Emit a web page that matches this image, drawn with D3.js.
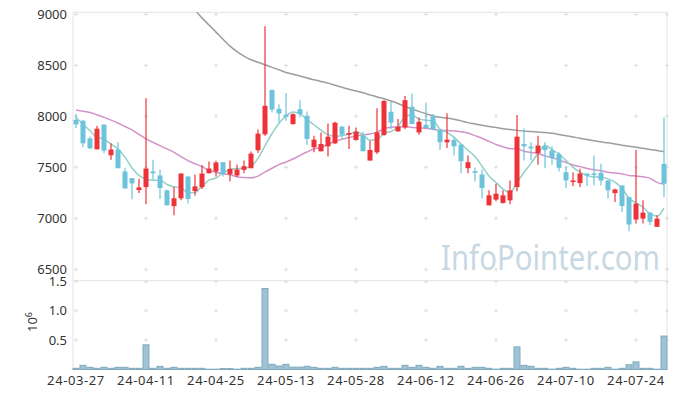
<!DOCTYPE html>
<html>
<head>
<meta charset="utf-8">
<script src="https://cdn.jsdelivr.net/npm/d3@7"></script>
<style>
  body { margin: 0; background: #fff; }
  text { font-family: "Noto Sans", sans-serif; }
</style>
</head>
<body>
<div id="chart"></div>
<script>
var width = 677;
var height = 398;

var dates = [
  "24-03-27","24-03-28","24-03-29","24-04-01","24-04-02","24-04-03","24-04-04","24-04-05","24-04-08","24-04-09",
  "24-04-11","24-04-12","24-04-15","24-04-16","24-04-17","24-04-18","24-04-19","24-04-22","24-04-23","24-04-24",
  "24-04-25","24-04-26","24-04-29","24-04-30","24-05-02","24-05-03","24-05-07","24-05-08","24-05-09","24-05-10",
  "24-05-13","24-05-14","24-05-16","24-05-17","24-05-20","24-05-21","24-05-22","24-05-23","24-05-24","24-05-27",
  "24-05-28","24-05-29","24-05-30","24-05-31","24-06-03","24-06-04","24-06-05","24-06-07","24-06-10","24-06-11",
  "24-06-12","24-06-13","24-06-14","24-06-17","24-06-18","24-06-19","24-06-20","24-06-21","24-06-24","24-06-25",
  "24-06-26","24-06-27","24-06-28","24-07-01","24-07-02","24-07-03","24-07-04","24-07-05","24-07-08","24-07-09",
  "24-07-10","24-07-11","24-07-12","24-07-15","24-07-16","24-07-17","24-07-18","24-07-19","24-07-22","24-07-23",
  "24-07-24","24-07-25","24-07-26","24-07-29","24-07-30"
];

var opens = [
  7966,7956,7784,7676,7917,7618,7674,7459,7394,7277,
  7306,7459,7420,7274,7120,7196,7410,7267,7306,7442,
  7459,7550,7430,7420,7475,7491,7667,7823,8259,8073,
  8015,7924,8070,8005,7696,7657,7706,7735,7898,7820,
  7768,7810,7566,7647,7817,8044,7852,7891,8093,7842,
  7917,8000,7869,7745,7768,7722,7491,7462,7430,7127,
  7183,7150,7176,7306,7729,7703,7637,7706,7664,7631,
  7452,7355,7345,7439,7439,7446,7371,7247,7322,7208,
  6988,6997,7056,6916,7534
];
var highs = [
  8022,7963,7803,7907,7924,7735,7745,7495,7394,7388,
  8178,7573,7478,7280,7306,7439,7410,7430,7521,7556,
  7563,7550,7566,7527,7566,7654,7871,8883,8259,8119,
  8229,8031,8158,8047,7810,7842,7930,7946,7908,7908,
  7891,7849,7761,8080,8158,8142,7973,8200,8223,7989,
  8135,8022,7869,8031,7793,7729,7615,7495,7478,7274,
  7339,7274,7371,8012,7881,7745,7810,7745,7706,7647,
  7508,7452,7485,7439,7615,7534,7371,7290,7322,7208,
  7670,7176,7056,7030,7989
];
var lows = [
  7885,7696,7680,7676,7637,7573,7491,7293,7186,7247,
  7137,7378,7189,7127,7030,7176,7144,7222,7287,7439,
  7410,7410,7361,7404,7442,7491,7641,7810,8037,7940,
  7956,7917,7989,7722,7647,7657,7605,7729,7778,7680,
  7761,7657,7566,7631,7810,7875,7852,7875,7924,7820,
  7885,7869,7670,7690,7615,7442,7442,7361,7193,7127,
  7166,7144,7137,7264,7566,7566,7524,7491,7524,7459,
  7296,7313,7306,7316,7322,7322,7193,7160,7062,6874,
  6949,6949,6932,6916,7208
];
var closes = [
  7920,7735,7686,7878,7664,7674,7491,7293,7342,7303,
  7488,7442,7296,7127,7196,7439,7189,7313,7439,7488,
  7547,7436,7485,7478,7511,7634,7830,8103,8067,8028,
  7995,8021,8021,7778,7771,7729,7800,7937,7820,7836,
  7849,7657,7670,7842,8151,7937,7898,8158,7924,7946,
  7885,7869,7745,7771,7706,7559,7550,7446,7296,7225,
  7241,7225,7274,7800,7706,7686,7713,7670,7589,7495,
  7371,7371,7439,7420,7427,7371,7274,7283,7120,6939,
  7144,7056,6965,6997,7339
];
// volume in millions
var volumes = [
  0.02,0.071,0.037,0.02,0.037,0.02,0.037,0.037,0.02,0.02,
  0.42,0.02,0.054,0.02,0.037,0.02,0.02,0.02,0.02,0.005,
  0.005,0.015,0.015,0.005,0.02,0.02,0.037,1.38,0.088,0.06,
  0.088,0.04,0.04,0.054,0.037,0.02,0.02,0.037,0.02,0.02,
  0.02,0.02,0.02,0.037,0.054,0.02,0.02,0.071,0.037,0.071,
  0.037,0.02,0.054,0.02,0.02,0.054,0.02,0.037,0.037,0.02,
  0.005,0.02,0.02,0.385,0.071,0.054,0.02,0.02,0.005,0.02,
  0.037,0.02,0.005,0.005,0.02,0.02,0.037,0.005,0.02,0.08,
  0.13,0.02,0.02,0.005,0.57
];
// moving average values before enough history is on the chart
var ma5Head = [7989, 7924, 7859, 7793];
var ma20Head = [8061,8050,8037,8015,7989,7962,7934,7900,7866,7822,7778,7745,7712,7680,7647,7605,7566,7535,7508];
// long moving average, null = off chart
var ma120 = [
  null,null,null,null,null,null,null,null,null,null,
  null,null,null,null,null,9260,9120,9040,8965,8895,
  8825,8755,8688,8635,8590,8555,8530,8505,8480,8455,
  8430,8412,8395,8375,8358,8342,8325,8305,8285,8265,
  8248,8230,8210,8190,8172,8150,8125,8098,8070,8048,
  8025,8005,7990,7982,7972,7955,7938,7925,7912,7900,
  7890,7878,7870,7862,7855,7850,7845,7840,7833,7822,
  7810,7797,7785,7772,7760,7750,7740,7728,7717,7706,
  7697,7686,7675,7665,7654
];

var priceTicks = [6500, 7000, 7500, 8000, 8500, 9000];
var volTicks = [0.5, 1.0, 1.5];
var dateTickIdx = [0, 10, 20, 30, 40, 50, 60, 70, 80];

function movingAvg(n, head) {
  return closes.map(function(c, i) {
    if (i < n - 1) return head[i];
    return d3.mean(closes.slice(i - n + 1, i + 1));
  });
}
var ma5 = movingAvg(5, ma5Head);
var ma20 = movingAvg(20, ma20Head);

var plotLeft = 73, plotRight = 667, plotTop = 12.3;

var svg = d3.select("#chart").append("svg")
  .attr("width", width)
  .attr("height", height);

var x = d3.scaleLinear().domain([-3/7, closes.length - 1 + 3/7]).range([plotLeft, plotRight]);
var y = d3.scaleLinear().domain([6500, 9000]).range([269.3, 14.3]);
var yv = d3.scaleLinear().domain([0, 1.5]).range([369.5, 281.5]);

svg.append("defs").append("clipPath").attr("id", "clipPrice")
  .append("rect").attr("x", plotLeft).attr("y", plotTop).attr("width", plotRight - plotLeft).attr("height", 262);

// frame
var frame = "#e3e3e3";
svg.append("line").attr("x1", plotLeft).attr("x2", plotRight).attr("y1", plotTop).attr("y2", plotTop).attr("stroke", frame);
svg.append("line").attr("x1", plotLeft).attr("x2", plotRight).attr("y1", 280.7).attr("y2", 280.7).attr("stroke", frame);
svg.append("line").attr("x1", plotLeft).attr("x2", plotRight).attr("y1", 369.5).attr("y2", 369.5).attr("stroke", frame);
svg.append("line").attr("x1", plotLeft).attr("x2", plotLeft).attr("y1", plotTop).attr("y2", 369.5).attr("stroke", frame);
svg.append("line").attr("x1", plotRight).attr("x2", plotRight).attr("y1", plotTop).attr("y2", 369.5).attr("stroke", frame);

// grid crosses
var gx = dateTickIdx.map(function(i) { return x(i); }).concat([plotRight]);
var gy = priceTicks.map(function(p) { return y(p); }).concat(volTicks.map(function(v) { return yv(v); }));
var crosses = [];
gx.forEach(function(a) { gy.forEach(function(b) { crosses.push([a, b]); }); });
svg.append("g").selectAll("path").data(crosses).join("path")
  .attr("d", function(d) { return "M" + (d[0] - 2) + "," + d[1] + "h4M" + d[0] + "," + (d[1] - 2) + "v4"; })
  .attr("stroke", "#dedede")
  .attr("stroke-width", 1)
  .attr("fill", "none");

// watermark
svg.append("text")
  .attr("x", 441).attr("y", 270)
  .attr("font-size", 34)
  .attr("textLength", 219)
  .attr("lengthAdjust", "spacingAndGlyphs")
  .attr("fill", "#c8d8e2")
  .text("InfoPointer.com");

// axis labels
var labelColor = "#333";
svg.append("g").selectAll("text").data(priceTicks).join("text")
  .attr("x", 67).attr("y", function(d) { return y(d) + 1; })
  .attr("text-anchor", "end").attr("dominant-baseline", "middle")
  .attr("font-size", 13).attr("fill", labelColor)
  .text(function(d) { return d; });
svg.append("g").selectAll("text").data(volTicks).join("text")
  .attr("x", 67).attr("y", function(d) { return yv(d) + 1; })
  .attr("text-anchor", "end").attr("dominant-baseline", "middle")
  .attr("font-size", 13).attr("fill", labelColor)
  .text(function(d) { return d.toFixed(1); });
svg.append("g").selectAll("text").data(dateTickIdx).join("text")
  .attr("x", function(d) { return x(d); }).attr("y", 385)
  .attr("text-anchor", "middle")
  .attr("font-size", 13).attr("letter-spacing", 0.6).attr("fill", labelColor)
  .text(function(d) { return dates[d]; });

var unit = svg.append("text")
  .attr("transform", "translate(37,322) rotate(-90)")
  .attr("text-anchor", "middle")
  .attr("font-size", 13).attr("fill", labelColor);
unit.append("tspan").text("10");
unit.append("tspan").attr("dy", -5).attr("font-size", 9).text("6");

// volume bars
svg.append("g").selectAll("rect").data(volumes).join("rect")
  .attr("x", function(d, i) { return x(i) - 3; })
  .attr("width", 6)
  .attr("y", function(d) { return yv(d); })
  .attr("height", function(d) { return yv(0) - yv(d); })
  .attr("fill", "#9fc3d4")
  .attr("stroke", "#7ea9be")
  .attr("stroke-width", 1);

// moving averages
var lineGen = d3.line()
  .defined(function(d) { return d != null; })
  .x(function(d, i) { return x(i); })
  .y(function(d) { return y(d); })
  .curve(d3.curveMonotoneX);

var lines = svg.append("g").attr("clip-path", "url(#clipPrice)");
lines.append("path").attr("d", lineGen(ma120)).attr("fill", "none").attr("stroke", "#9d9d9d").attr("stroke-width", 1.5);
lines.append("path").attr("d", lineGen(ma20)).attr("fill", "none").attr("stroke", "#d393c8").attr("stroke-width", 1.5);
lines.append("path").attr("d", lineGen(ma5)).attr("fill", "none").attr("stroke", "#93d0c8").attr("stroke-width", 1.5);

// candles
var red = "#ee3338", blue = "#6cc3db";
var candles = svg.append("g").selectAll("g").data(closes).join("g");
candles.append("line")
  .attr("x1", function(d, i) { return x(i); })
  .attr("x2", function(d, i) { return x(i); })
  .attr("y1", function(d, i) { return y(highs[i]); })
  .attr("y2", function(d, i) { return y(lows[i]); })
  .attr("stroke", function(d, i) { return d >= opens[i] ? red : blue; })
  .attr("stroke-width", 1.2);
candles.append("rect")
  .attr("x", function(d, i) { return x(i) - 2.5; })
  .attr("width", 5)
  .attr("y", function(d, i) { return y(Math.max(d, opens[i])); })
  .attr("height", function(d, i) { return Math.max(1.5, Math.abs(y(d) - y(opens[i]))); })
  .attr("fill", function(d, i) { return d >= opens[i] ? red : blue; });
</script>
</body>
</html>
